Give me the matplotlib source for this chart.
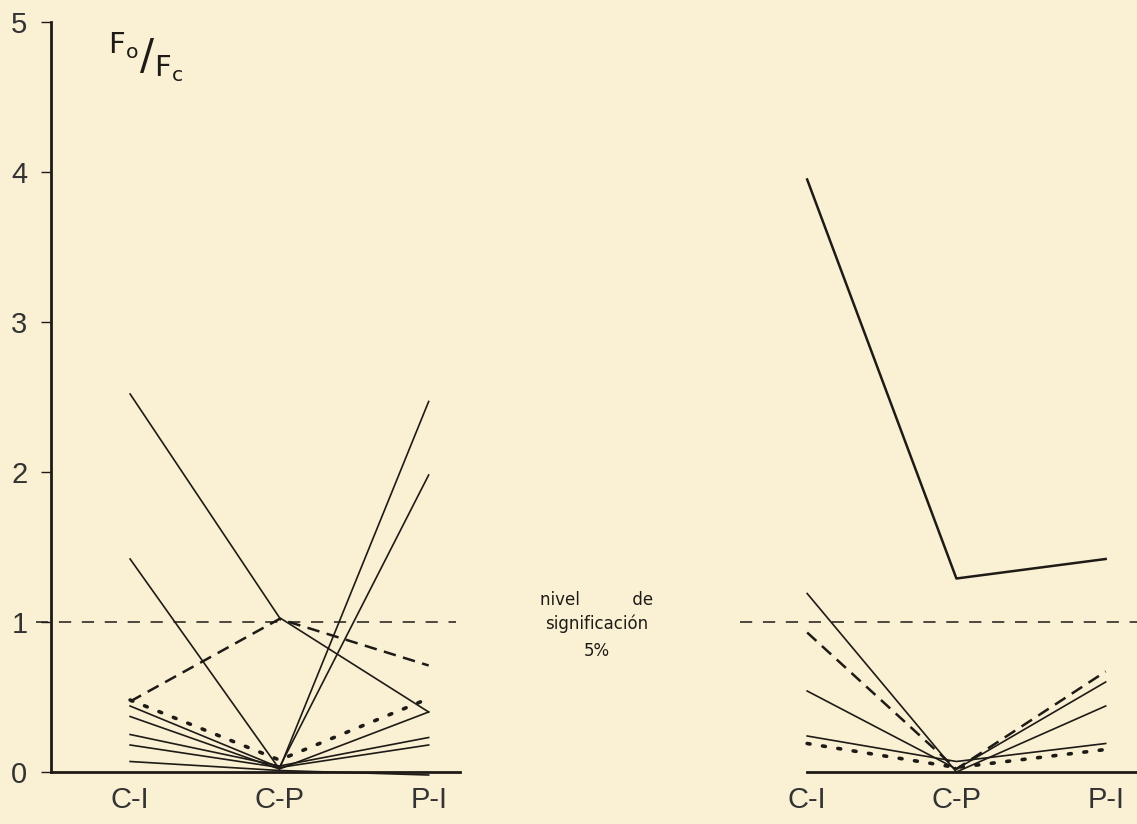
import matplotlib
matplotlib.use("Agg")
import matplotlib.pyplot as plt
import numpy as np

#%% data
labels = ['C-I', 'C-P', 'P-I']
x = np.arange(3)

left_solid = [[2.52, 1.03, 0.40],
              [1.42, 0.02, 2.47],
              [0.44, 0.03, 1.98],
              [0.37, 0.02, 0.40],
              [0.25, 0.04, 0.23],
              [0.18, 0.03, 0.18],
              [0.07, 0.01, -0.02]]
left_dashed = [0.47, 1.02, 0.71]
left_dotted = [0.48, 0.08, 0.49]

right_solid = [[3.95, 1.29, 1.42],
               [1.19, 0.00, 0.44],
               [0.54, 0.02, 0.60],
               [0.24, 0.07, 0.19]]
right_dashed = [0.93, 0.02, 0.67]
right_dotted = [0.19, 0.03, 0.15]

level = 1.0
yticks = [0, 1, 2, 3, 4, 5]

#%% figure
bg = '#faf1d4'
ink = '#1e1a16'
plt.rcParams['font.family'] = ['Liberation Sans', 'DejaVu Sans']
plt.rcParams['mathtext.fontset'] = 'dejavusans'

fig = plt.figure(figsize=(11.37, 8.24), dpi=100, facecolor=bg)
W, H = 1137, 824
y0px, y5px = 772, 22
bottom = (H - y0px) / H
height = (y0px - y5px) / H


def px(xp, yp):
    return xp / W, (H - yp) / H


axL = fig.add_axes([51 / W, bottom, (460 - 51) / W, height])
axR = fig.add_axes([740 / W, bottom, (1137 - 740) / W, height])

for ax in (axL, axR):
    ax.set_facecolor(bg)
    ax.set_ylim(0, 5)
    ax.set_xticks(x)
    ax.set_xticklabels(labels, fontsize=21, color='#333333')
    ax.tick_params(axis='x', length=0, pad=10)
    for s in ['top', 'right']:
        ax.spines[s].set_visible(False)

axL.set_xlim(-0.53, 2.21)
axR.set_xlim(-0.45, 2.21)

# left panel axes
axL.spines['left'].set_linewidth(2)
axL.spines['left'].set_color(ink)
axL.spines['bottom'].set_linewidth(2)
axL.spines['bottom'].set_color(ink)
axL.set_yticks(yticks)
axL.set_yticklabels([str(t) for t in yticks], fontsize=21, color='#333333')
axL.tick_params(axis='y', length=7, width=1, color=ink, pad=10)

# F_o / F_c label as one piece of mathtext
fig.text(*px(146, 57), r'$^{\mathsf{F_o}}/_{\mathsf{F_c}}$', fontsize=30,
         color=ink, ha='center', va='center')

# right panel: no y axis, baseline from C-I onward
axR.spines['left'].set_visible(False)
axR.spines['bottom'].set_visible(False)
axR.set_yticks([])
axR.plot([0, 2.21], [0, 0], color=ink, lw=2, clip_on=False)

#%% significance line
axL.plot([-0.63, 2.18], [level, level], color=ink, lw=1.1,
         linestyle=(0, (8, 7)), clip_on=False)
axR.plot([-0.45, 2.21], [level, level], color=ink, lw=1.1,
         linestyle=(0, (8, 7)), clip_on=False)

#%% series
for ys in left_solid:
    axL.plot(x, ys, color=ink, lw=1.2, clip_on=False)
axL.plot(x, left_dashed, color=ink, lw=1.8, linestyle=(0, (5, 3)), clip_on=False)
axL.plot(x, left_dotted, color=ink, lw=2.6, linestyle=(0, (0.8, 3.5)),
         dash_capstyle='round', clip_on=False)

for i, ys in enumerate(right_solid):
    axR.plot(x, ys, color=ink, lw=1.8 if i == 0 else 1.2, clip_on=False)
axR.plot(x, right_dashed, color=ink, lw=1.8, linestyle=(0, (5, 3)), clip_on=False)
axR.plot(x, right_dotted, color=ink, lw=2.6, linestyle=(0, (0.8, 3.5)),
         dash_capstyle='round', clip_on=False)

#%% annotation
note = dict(fontsize=12, ha='center', va='center', color=ink, family='DejaVu Sans')
fig.text(*px(597, 600), 'nivel          de', **note)
fig.text(*px(597, 624), 'significación', **note)
fig.text(*px(597, 651), '5%', **note)

fig.savefig('out.png', dpi=100, facecolor=bg)
